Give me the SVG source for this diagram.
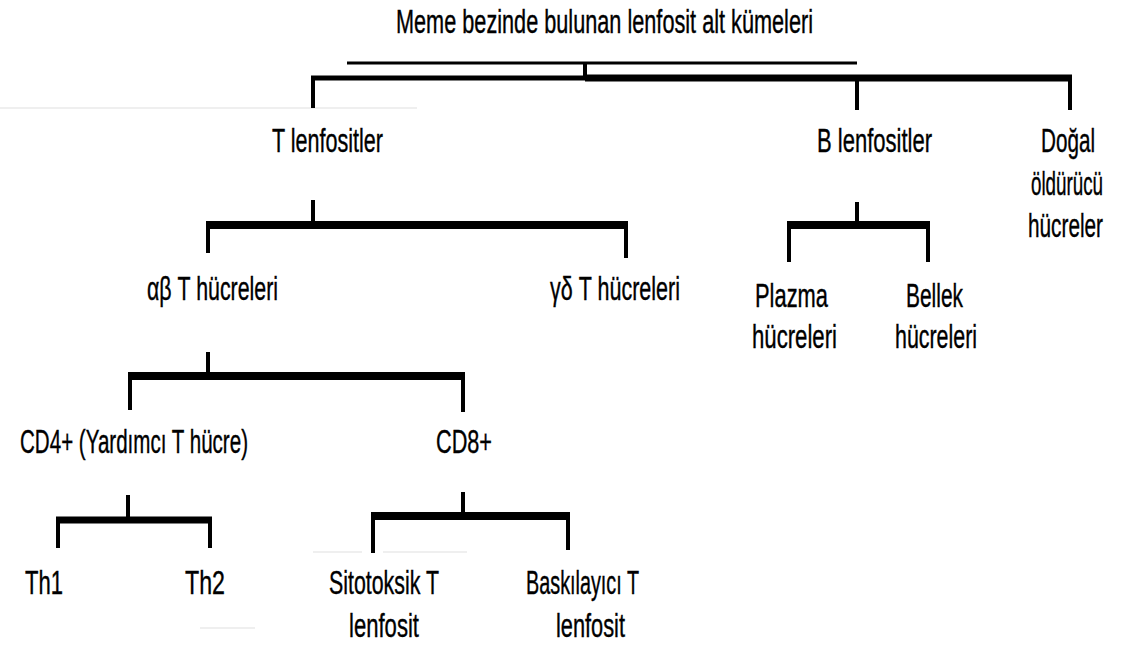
<svg xmlns="http://www.w3.org/2000/svg" width="1122" height="648" viewBox="0 0 1122 648">
<style>
.t{font-family:"Liberation Sans",Arial,sans-serif;font-size:34px;fill:#000;stroke:#000;stroke-width:0.4}
.bar{stroke:#000;fill:none;stroke-linecap:butt}
.faint{stroke:#efefef;stroke-width:2}
</style>
<rect width="1122" height="648" fill="#fff"/>
<g id="background">
<line class="faint" x1="0" y1="108" x2="417" y2="108" stroke="#f5f5f5"/>
<line class="faint" x1="313" y1="552" x2="362" y2="552"/>
<line class="faint" x1="383" y1="552" x2="467" y2="552"/>
<line class="faint" x1="200" y1="628" x2="255" y2="628"/>
</g>
<g id="connectors">
<path class="bar" stroke-width="3" d="M347 63H857"/>
<path class="bar" stroke-width="4" d="M585 63V78"/>
<path class="bar" stroke-width="5" d="M311 78H585"/>
<path class="bar" stroke-width="7" d="M585 78H1072"/>
<path class="bar" stroke-width="4" d="M313 76V108M857 76V110M1070 76V110"/>
<path class="bar" stroke-width="8" d="M206 225H628"/>
<path class="bar" stroke-width="4" d="M313 200V225M208 225V253M626 225V258"/>
<path class="bar" stroke-width="8" d="M787 225H930"/>
<path class="bar" stroke-width="4" d="M857 202V225M789 225V262M928 225V262"/>
<path class="bar" stroke-width="8" d="M128 376H465"/>
<path class="bar" stroke-width="4" d="M208 352V376M130 376V410M463 376V412"/>
<path class="bar" stroke-width="7" d="M56 520H212"/>
<path class="bar" stroke-width="4" d="M128 495V520M58 520V548M210 520V548"/>
<path class="bar" stroke-width="8" d="M371 516H570"/>
<path class="bar" stroke-width="4" d="M463 492V516M373 516V553M568 516V550"/>
</g>
<g id="root"><text class="t" x="396" y="33" textLength="417" lengthAdjust="spacingAndGlyphs">Meme bezinde bulunan lenfosit alt kümeleri</text></g>
<g id="t-lenfositler"><text class="t" x="272" y="152" textLength="111" lengthAdjust="spacingAndGlyphs">T lenfositler</text></g>
<g id="b-lenfositler"><text class="t" x="817" y="152" textLength="115" lengthAdjust="spacingAndGlyphs">B lenfositler</text></g>
<g id="dogal-olduruculer">
<text class="t" transform="translate(1041 152) scale(0.608 1)">Doğal</text>
<text class="t" transform="translate(1031 195) scale(0.552 1)">öldürücü</text>
<text class="t" transform="translate(1028 237) scale(0.611 1)">hücreler</text>
</g>
<g id="ab-t"><text class="t" x="147" y="300" textLength="131" lengthAdjust="spacingAndGlyphs">αβ T hücreleri</text></g>
<g id="gd-t"><text class="t" x="550" y="300" textLength="130" lengthAdjust="spacingAndGlyphs">γδ T hücreleri</text></g>
<g id="plazma">
<text class="t" x="755" y="307" textLength="73" lengthAdjust="spacingAndGlyphs">Plazma</text>
<text class="t" x="752" y="348" textLength="85" lengthAdjust="spacingAndGlyphs">hücreleri</text>
</g>
<g id="bellek">
<text class="t" x="906" y="307" textLength="57" lengthAdjust="spacingAndGlyphs">Bellek</text>
<text class="t" x="895" y="348" textLength="82" lengthAdjust="spacingAndGlyphs">hücreleri</text>
</g>
<g id="cd4"><text class="t" x="20" y="453" textLength="228" lengthAdjust="spacingAndGlyphs">CD4+ (Yardımcı T hücre)</text></g>
<g id="cd8"><text class="t" x="436" y="453" textLength="56" lengthAdjust="spacingAndGlyphs">CD8+</text></g>
<g id="th1"><text class="t" x="25" y="594" textLength="38" lengthAdjust="spacingAndGlyphs">Th1</text></g>
<g id="th2"><text class="t" x="185" y="594" textLength="40" lengthAdjust="spacingAndGlyphs">Th2</text></g>
<g id="sitotoksik">
<text class="t" x="329" y="594" textLength="110" lengthAdjust="spacingAndGlyphs">Sitotoksik T</text>
<text class="t" x="349" y="637" textLength="70" lengthAdjust="spacingAndGlyphs">lenfosit</text>
</g>
<g id="baskilayici">
<text class="t" x="526" y="594" textLength="113" lengthAdjust="spacingAndGlyphs">Baskılayıcı T</text>
<text class="t" x="556" y="637" textLength="69" lengthAdjust="spacingAndGlyphs">lenfosit</text>
</g>
</svg>
